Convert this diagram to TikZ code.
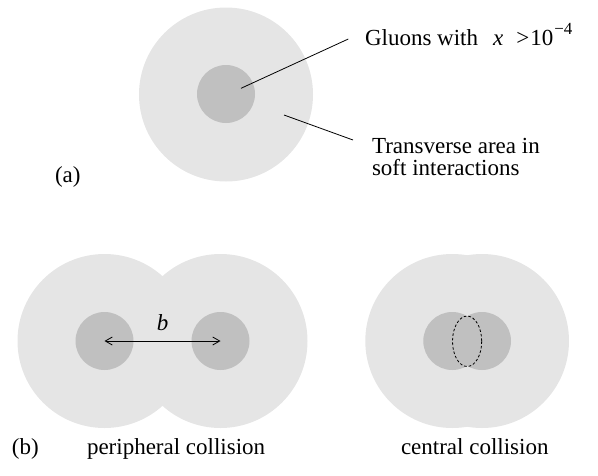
\documentclass[tikz,border=0pt]{standalone}
\usepackage{fontspec}
\setmainfont{Liberation Serif}
\usetikzlibrary{arrows.meta}
\definecolor{softgray}{RGB}{229,229,229}
\definecolor{coregray}{RGB}{192,192,192}
\begin{document}
\begin{tikzpicture}[x=1pt,y=-1pt,
  outer/.style={fill=softgray,draw=none},
  core/.style={fill=coregray,draw=none},
  lbl/.style={inner sep=0pt,outer sep=0pt,anchor=base west,font=\fontsize{23}{27}\selectfont},
  pointer/.style={line width=0.8pt,black},
  sep/.style={line width=0.8pt,{Straight Barb[length=7pt,width=8pt]}-{Straight Barb[length=7pt,width=8pt]}}]
\useasboundingbox (0,0) rectangle (598,475);
% (a)
\fill[outer] (226,94.5) circle (87);
\fill[core] (226,94) circle (29);
\coordinate (g0) at (241,88.3);
\coordinate (t0) at (284,115);
\node[lbl] (gl) at (365,45) {Gluons with\hspace{15pt}\textit{x}\hspace{13pt}>\hspace{1pt}10\hspace{1pt}\raisebox{11pt}{\fontsize{17}{17}\selectfont −4}};
\node[lbl] (tr1) at (372,153) {Transverse area in};
\node[lbl] (tr2) at (372,175) {soft interactions};
\coordinate (g1) at (348.3,39);
\coordinate (t1) at (353,140);
\draw[pointer] (g0) -- (g1);
\draw[pointer] (t0) -- (t1);
\node[lbl] (la) at (55,182) {(a)};
% (b) peripheral
\fill[outer] (104.5,341) circle (87);
\fill[outer] (220.5,341) circle (87);
\node[core,circle,minimum size=58pt,inner sep=0pt] (p1) at (104.5,341) {};
\node[core,circle,minimum size=58pt,inner sep=0pt] (p2) at (220.5,341) {};
\draw[sep] (p1.center) -- (p2.center);
\node[inner sep=0pt,anchor=base,font=\fontsize{23}{27}\selectfont\itshape] (bl) at (162.5,330) {b};
% central
\fill[outer] (452.3,341) circle (87);
\fill[outer] (482,341) circle (87);
\fill[core] (452.3,341) circle (29);
\fill[core] (482,341) circle (29);
\draw[line width=0.8pt,dash pattern=on 2.6pt off 2pt] (467.1,341.3) ellipse (14.6 and 25.2);
\node[lbl] (lb) at (12,454) {(b)};
\node[lbl] (pc) at (87,454) {peripheral collision};
\node[lbl] (cc) at (401,454) {central collision};
\end{tikzpicture}
\end{document}
